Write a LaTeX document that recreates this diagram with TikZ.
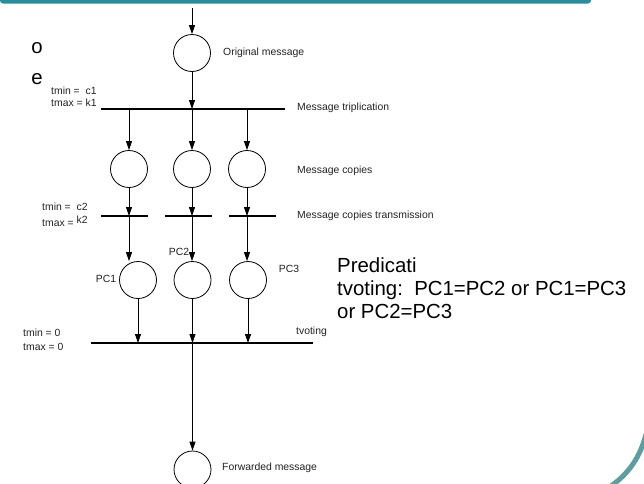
\documentclass[tikz,border=0pt]{standalone}
\usepackage{fontspec}
\setmainfont{Liberation Sans}
\usetikzlibrary{arrows.meta}
\definecolor{tealbar}{HTML}{2A8D9C}
\definecolor{tealarc}{HTML}{5F9DA0}
\definecolor{lbl}{HTML}{222222}
\begin{document}
\begin{tikzpicture}[x=1pt,y=-1pt,
  place/.style={draw,circle,minimum size=37pt,inner sep=0pt,line width=0.8pt},
  arr/.style={line width=0.8pt,-{Triangle[length=9pt,width=6pt]}},
  plain/.style={line width=0.8pt},
  bar/.style={line width=2.2pt},
  small/.style={font=\fontsize{10.4}{12}\selectfont,text=lbl,inner sep=0pt},
  big/.style={font=\fontsize{20.4}{23}\selectfont,inner sep=0pt,align=left}]
\useasboundingbox (0,0) rectangle (644,483);
% decorations
\fill[tealbar,rounded corners=3pt] (0,-6) rectangle (591,3.5);
\draw[tealarc,line width=5pt] (611,486) .. controls (628,474) and (640,458) .. (646,434);
% left cut text
\node[big,anchor=center] (tx1) at (37,48) {o};
\node[big,anchor=center] (tx2) at (37,79) {e};
% places
\node[place] (orig) at (192,53) {};
\node[place] (c1) at (129,169) {};
\node[place] (c2) at (192,169) {};
\node[place] (c3) at (247,169) {};
\node[place] (p1) at (138,280) {};
\node[place] (p2) at (192.5,280) {};
\node[place] (p3) at (248,280) {};
\node[place] (fw) at (192.5,469.5) {};
% bars
\coordinate (top) at (192,8);
\coordinate (b1l) at (101,109); \coordinate (b1r) at (285,109);
\coordinate (b1a) at (129,109); \coordinate (b1b) at (192,109); \coordinate (b1c) at (247,109);
\draw[bar] (b1l) -- (b1r);
\coordinate (b2a) at (129,216); \coordinate (b2b) at (192,216); \coordinate (b2c) at (247,216);
\draw[bar] (101,216) -- (148,216);
\draw[bar] (165,216) -- (212,216);
\draw[bar] (229,216) -- (276,216);
\coordinate (b3l) at (91,343); \coordinate (b3r) at (313,343);
\draw[bar] (b3l) -- (b3r);
\coordinate (b3a) at (138,343); \coordinate (b3b) at (192.5,343); \coordinate (b3c) at (248,343);
% arcs
\draw[arr] (top) -- (orig);
\draw[arr] (orig) -- (b1b);
\draw[arr] (b1a) -- (c1);
\draw[arr] (b1b) -- (c2);
\draw[arr] (b1c) -- (c3);
\draw[arr] (c1) -- (b2a);
\draw[arr] (c2) -- (b2b);
\draw[arr] (c3) -- (b2c);
\draw[arr] (b2a) -- (b2a |- p1.north);
\draw[arr] (b2b) -- (b2b |- p2.north);
\draw[arr] (b2c) -- (b2c |- p3.north);
\draw[arr] (p1) -- (b3a);
\draw[arr] (p2) -- (b3b);
\draw[arr] (p3) -- (b3c);
\draw[arr] (b3b) -- (fw);
% labels
\node[small,anchor=west] (l1) at (223,53) {Original message};
\node[small,anchor=west] (l2) at (297,108) {Message triplication};
\node[small,anchor=west] (l3) at (297,171) {Message copies};
\node[small,anchor=west] (l4) at (297,216) {Message copies transmission};
\node[small,anchor=west] (l5) at (296,332) {tvoting};
\node[small,anchor=west] (l6) at (222,468) {Forwarded message};
\node[small,anchor=west] (t1) at (51,91) {tmin =\ \ c1};
\node[small,anchor=west] (t2) at (51,103) {tmax = k1};
\node[small,anchor=west] (t3) at (42,207) {tmin =\ \ c2};
\node[small,anchor=west] (t4) at (42,221) {tmax = \raisebox{3pt}{k2}};
\node[small,anchor=west] (t5) at (23,333) {tmin = 0};
\node[small,anchor=west] (t6) at (23,347) {tmax = 0};
\node[small] (pc1) at (106,279) {PC1};
\node[small] (pc2) at (179,252) {PC2};
\node[small] (pc3) at (289,269) {PC3};
\node[big,anchor=north west] (pred) at (337,258) {Predicati\\tvoting:\ \ PC1=PC2 or PC1=PC3\\or PC2=PC3};
\end{tikzpicture}
\end{document}
